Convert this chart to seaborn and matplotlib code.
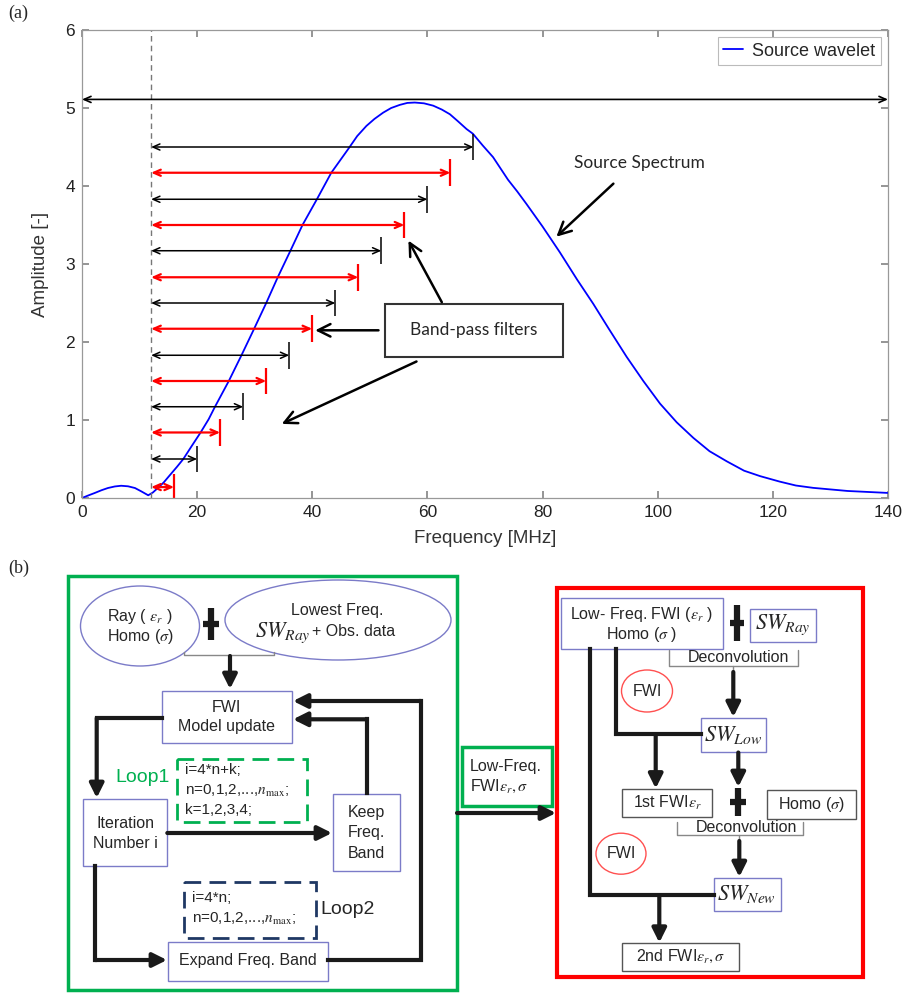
import matplotlib
matplotlib.use('Agg')
import matplotlib.pyplot as plt
from matplotlib.patches import Rectangle, Ellipse
import seaborn as sns

# source spectrum
freq = [0, 1, 2.2, 3.4, 4.5, 5.7, 6.8, 8, 9.2, 10.3, 11.5, 12.3, 13.2, 14.2, 15, 16.5, 17.6,
        19, 20.6, 22, 23.1, 25.5, 27.7, 29.9, 32, 34, 36.2, 38.3, 40.8, 43.3, 46.3, 47.8,
        49.4, 50.8, 52.3, 53.7, 55.2, 56.5, 57.8, 59.4, 61, 62.5, 63.9, 65.3, 66.8, 67.9,
        69.6, 71.4, 74, 75.6, 77.2, 80, 83, 86, 88.8, 91.5, 94.6, 97.5, 100.4, 103.3, 106.2,
        109, 112, 115, 117.8, 121.2, 124, 127, 133, 140]
amp = [0, 0.03, 0.064, 0.10, 0.128, 0.148, 0.157, 0.15, 0.128, 0.085, 0.035, 0.07, 0.13,
       0.20, 0.27, 0.40, 0.50, 0.66, 0.84, 1.01, 1.17, 1.50, 1.83, 2.17, 2.50, 2.83, 3.17,
       3.50, 3.83, 4.17, 4.48, 4.64, 4.77, 4.86, 4.94, 5.00, 5.04, 5.065, 5.07, 5.06, 5.03,
       4.98, 4.92, 4.83, 4.73, 4.67, 4.52, 4.37, 4.08, 3.93, 3.77, 3.48, 3.15, 2.80, 2.49,
       2.17, 1.81, 1.50, 1.21, 0.97, 0.77, 0.60, 0.47, 0.35, 0.28, 0.21, 0.16, 0.13, 0.09,
       0.065]

# band-pass filters (all start at 12 MHz)
band_lo = 12
band_hi = [16, 20, 24, 28, 32, 36, 40, 44, 48, 52, 56, 60, 64, 68]
band_y = [0.14, 0.50, 0.84, 1.17, 1.50, 1.83, 2.17, 2.50, 2.83, 3.17, 3.50, 3.83, 4.17, 4.50]
band_col = ['red', 'black'] * 7
full_band_y = 5.11

sns.set_theme(style='white')
plt.rcParams['font.family'] = ['Liberation Sans', 'DejaVu Sans']
plt.rcParams['mathtext.fontset'] = 'stix'

fig = plt.figure(figsize=(9.04, 9.94), dpi=100)

# canvas for the flowchart, in pixel units
fc = fig.add_axes([0, 0, 1, 1])
fc.set_xlim(0, 904)
fc.set_ylim(994, 0)
fc.axis('off')

# ---------------- panel (a) ----------------
ax = fig.add_axes([82 / 904, 1 - 498 / 994, 806 / 904, 468 / 994])
sns.lineplot(x=freq, y=amp, color='blue', lw=1.3, label='Source wavelet', ax=ax)
ax.axvline(band_lo, color='#777777', ls=(0, (4, 3)), lw=1)

for hi, y, c in zip(band_hi, band_y, band_col):
    w = 1.6 if c == 'red' else 1.1
    ax.annotate('', xy=(hi, y), xytext=(band_lo, y),
                arrowprops=dict(arrowstyle='<->,head_length=0.5,head_width=0.22', color=c,
                                lw=w, shrinkA=0, shrinkB=0, mutation_scale=10))
    ax.vlines(hi, y - 0.17, y + 0.17, color=c, lw=w)

ax.annotate('', xy=(140, full_band_y), xytext=(0, full_band_y), annotation_clip=False,
            arrowprops=dict(arrowstyle='<->,head_length=0.5,head_width=0.22', color='black',
                            lw=1.2, shrinkA=0, shrinkB=0, mutation_scale=10))

ax.text(96.9, 4.30, 'Source Spectrum', family='Lato', fontsize=12.5, ha='center', va='center')
ax.annotate('', xy=(82.4, 3.35), xytext=(92.3, 4.03),
            arrowprops=dict(arrowstyle='->,head_length=0.9,head_width=0.45', color='black',
                            lw=1.8, shrinkA=0, shrinkB=0, mutation_scale=10))

ax.add_patch(Rectangle((52.7, 1.81), 30.9, 0.68, fc='white', ec='#333333', lw=1.5, zorder=3))
ax.text(68.1, 2.15, 'Band-pass filters', family='Lato', fontsize=12.5, ha='center', va='center',
        zorder=4)
for tip, tail in [((56.7, 3.30), (62.5, 2.51)), ((40.5, 2.15), (51.5, 2.15)),
                  ((34.7, 0.95), (58.1, 1.75))]:
    ax.annotate('', xy=tip, xytext=tail,
                arrowprops=dict(arrowstyle='->,head_length=0.9,head_width=0.45', color='black',
                                lw=1.8, shrinkA=0, shrinkB=0, mutation_scale=10))

ax.set_xlim(0, 140)
ax.set_ylim(0, 6)
ax.set_xticks(range(0, 141, 20))
ax.set_yticks(range(0, 7))
ax.tick_params(direction='in', bottom=True, left=True, top=True, right=True, length=5,
               color='#888888', labelsize=12.5, labelcolor='#222222', pad=5)
for s in ax.spines.values():
    s.set_color('#999999')
    s.set_linewidth(0.9)
ax.set_xlabel('Frequency [MHz]', fontsize=13.5, color='#333333', labelpad=7)
ax.set_ylabel('Amplitude [-]', fontsize=13.5, color='#333333', labelpad=12)
leg = ax.legend(loc='upper right', fontsize=13, frameon=True, fancybox=False, edgecolor='#aaaaaa',
                handlelength=1.1, handletextpad=0.5, borderpad=0.3, borderaxespad=0.4)
leg.get_frame().set_linewidth(0.8)

# ---------------- panel (b) ----------------
GREEN = '#00b050'
BLUE_EDGE = '#7b7bc8'
NAVY = '#1f3864'
GRAY_EDGE = '#555555'
FS = 11.5


def rect(x0, y0, x1, y1, ec, lw=1.0, ls='-'):
    fc.add_patch(Rectangle((x0, y0), x1 - x0, y1 - y0, fill=False, ec=ec, lw=lw, ls=ls))


def arrow_path(pts, lw=3):
    if len(pts) > 2:
        xs, ys = zip(*pts[:-1])
        fc.plot(xs, ys, color='k', lw=lw, solid_joinstyle='miter', solid_capstyle='projecting')
    fc.annotate('', xy=pts[-1], xytext=pts[-2],
                arrowprops=dict(arrowstyle='-|>,head_length=0.7,head_width=0.35', lw=lw,
                                color='k', mutation_scale=12, shrinkA=0, shrinkB=0))


def line(xs, ys, lw=3):
    fc.plot(xs, ys, color='k', lw=lw, solid_joinstyle='miter', solid_capstyle='projecting')


def plus(x, y, hh, hw, lw=4.5):
    fc.plot([x, x], [y - hh, y + hh], color='k', lw=lw, solid_capstyle='butt')
    fc.plot([x - hw, x + hw], [y, y], color='k', lw=lw, solid_capstyle='butt')


def bracket(x0, x1, xm, ytop, ybot):
    fc.plot([x0, x0, x1, x1], [ytop, ybot, ybot, ytop], color='#888888', lw=1)
    fc.plot([xm, xm], [ybot, ybot + 5], color='#888888', lw=1)


def txt(x, y, s, **kw):
    kw.setdefault('fontsize', FS)
    kw.setdefault('ha', 'center')
    kw.setdefault('va', 'center')
    fc.text(x, y, s, **kw)


fc.text(8, 13, '(a)', family='Liberation Serif', fontsize=13, va='center')
fc.text(8, 568, '(b)', family='Liberation Serif', fontsize=13, va='center')

# left (green) block
rect(68, 576, 457, 990, GREEN, lw=2.5)
fc.add_patch(Ellipse((140, 626), 119, 80, fill=False, ec=BLUE_EDGE, lw=1))
txt(140, 616, r'Ray ( $\varepsilon_r$ )')
txt(140, 637, r'Homo ($\sigma$)')
plus(211.5, 624, 16, 8)
fc.add_patch(Ellipse((338, 620), 226, 80, fill=False, ec=BLUE_EDGE, lw=1))
txt(337, 610, 'Lowest Freq.')
fc.text(311, 637, r'$SW_{Ray}$', fontsize=16, ha='right', va='baseline')
fc.text(312, 636, '+ Obs. data', fontsize=FS, ha='left', va='baseline')
fc.plot([184, 184, 274, 274], [652, 655, 655, 652], color='#888888', lw=1)
arrow_path([(230, 656), (230, 689)])

rect(161.7, 690.7, 291.7, 743.3, BLUE_EDGE)
txt(226.7, 707, 'FWI')
txt(226.7, 727, 'Model update')

arrow_path([(161.7, 718), (96.7, 718), (96.7, 798)])
rect(83.3, 799, 167.3, 866, BLUE_EDGE)
txt(125.3, 823, 'Iteration')
txt(125.3, 843, 'Number i')
arrow_path([(167.3, 833), (332, 833)])
rect(333.3, 794, 400, 870.7, BLUE_EDGE)
txt(366.7, 813, 'Keep')
txt(366.7, 833, 'Freq.')
txt(366.7, 853, 'Band')
arrow_path([(366.7, 793), (366.7, 719.3), (293, 719.3)])
arrow_path([(328.3, 960), (421, 960), (421, 701), (293, 701)])
arrow_path([(95, 866), (95, 960), (167, 960)])
rect(168.3, 941.7, 328.3, 980.7, BLUE_EDGE)
txt(248.3, 961, 'Expand Freq. Band')

rect(176.7, 758.7, 307.3, 821.7, GREEN, lw=2, ls=(0, (6, 3)))
txt(115, 777, 'Loop1', color=GREEN, fontsize=14, ha='left')
txt(185, 770, 'i=4*n+k;', fontsize=11, ha='left')
txt(185, 791, r'n=0,1,2,...,$n_{\mathrm{max}}$;', fontsize=11, ha='left')
txt(185, 810, 'k=1,2,3,4;', fontsize=11, ha='left')

rect(184.3, 882.3, 315.7, 937.7, NAVY, lw=2, ls=(0, (6, 3)))
txt(192, 898, 'i=4*n;', fontsize=11, ha='left')
txt(192, 919, r'n=0,1,2,...,$n_{\mathrm{max}}$;', fontsize=11, ha='left')
txt(320, 910, 'Loop2', fontsize=14, ha='left')

# link between the two blocks
rect(461.7, 747.3, 552.3, 805.7, GREEN, lw=2.5)
txt(470, 767, 'Low-Freq.', ha='left')
txt(470, 786, r'FWI$\varepsilon_r,\sigma$', ha='left')
arrow_path([(457, 813), (556, 813)])

# right (red) block
rect(557.3, 588.3, 863.3, 976.7, 'red', lw=3)
rect(560.7, 598.3, 722.7, 649.3, BLUE_EDGE)
txt(641.7, 615, r'Low- Freq. FWI ($\varepsilon_r$ )')
txt(641.7, 634, r'Homo ($\sigma$ )')
plus(736.7, 623, 18, 7)
rect(750, 609, 816, 641.7, BLUE_EDGE)
txt(783, 625, r'$SW_{Ray}$', fontsize=16)
bracket(669.3, 798.3, 733.3, 650, 666)
txt(738, 658, 'Deconvolution')
arrow_path([(733.3, 672), (733.3, 717)])
fc.add_patch(Ellipse((647, 691), 51, 42, fill=False, ec='#ff5050', lw=1))
txt(647, 691, 'FWI')
rect(700.7, 717.7, 765.7, 751.7, BLUE_EDGE)
txt(733, 735, r'$SW_{Low}$', fontsize=16)
line([615.7, 615.7, 700.7], [649.3, 734, 734])
arrow_path([(655.7, 734), (655.7, 788.5)])
arrow_path([(738.3, 752.5), (738.3, 787)])
plus(738, 801.7, 14, 8)
rect(622.3, 789.3, 711.7, 817.3, GRAY_EDGE)
txt(667, 803, r'1st FWI$\varepsilon_r$')
rect(766.7, 790, 855.7, 819, GRAY_EDGE)
txt(811, 804.5, r'Homo ($\sigma$)')
bracket(676.7, 803.3, 739.3, 821.7, 835)
txt(746.7, 827, 'Deconvolution')
arrow_path([(739.3, 841), (739.3, 877)])
fc.add_patch(Ellipse((621, 853.7), 50, 41, fill=False, ec='#ff5050', lw=1))
txt(621, 853.7, 'FWI')
rect(714.3, 877.7, 780.7, 910.7, BLUE_EDGE)
txt(747, 894, r'$SW_{New}$', fontsize=16)
line([590, 590, 714.3], [649.3, 895, 895])
arrow_path([(659.3, 895), (659.3, 942.7)])
rect(622.3, 942.7, 739.3, 970.7, GRAY_EDGE)
txt(680.8, 956.7, r'2nd FWI$\varepsilon_r,\sigma$')

fig.savefig('out.png', dpi=100)
